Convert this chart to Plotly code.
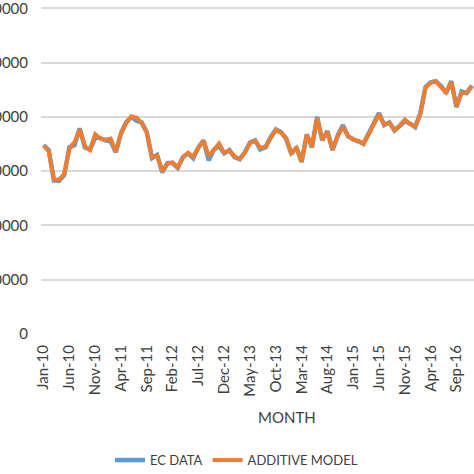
import plotly.graph_objects as go

months = ["Jan", "Feb", "Mar", "Apr", "May", "Jun", "Jul", "Aug", "Sep", "Oct", "Nov", "Dec"]
month_labels = [f"{m}-{y:02d}" for y in range(10, 17) for m in months]

ec_data = [348000, 339000, 283000, 282000, 293000, 344000, 348000, 379000, 344000, 340000,
           362000, 361000, 357000, 355000, 335000, 370000, 390000, 400000, 393000, 390000,
           372000, 324000, 330000, 298000, 315000, 315000, 306000, 326000, 333000, 324000,
           344000, 357000, 320000, 340000, 346000, 333000, 339000, 326000, 322000, 335000,
           353000, 357000, 340000, 344000, 363000, 377000, 372000, 360000, 332000, 344000,
           317000, 368000, 344000, 400000, 357000, 374000, 339000, 366000, 385000, 364000,
           359000, 355000, 351000, 370000, 390000, 407000, 385000, 390000, 375000, 385000,
           392000, 388000, 381000, 407000, 455000, 464000, 466000, 457000, 444000, 466000,
           418000, 447000, 444000, 458000]

additive_model = [347000, 337000, 285000, 284000, 295000, 342000, 354000, 377000, 346000, 339000,
                  368000, 360000, 358000, 360000, 336000, 369000, 389000, 401000, 399000, 389000,
                  371000, 326000, 329000, 300000, 314000, 316000, 307000, 325000, 334000, 327000,
                  343000, 356000, 328000, 339000, 351000, 334000, 338000, 327000, 323000, 334000,
                  352000, 356000, 343000, 345000, 362000, 376000, 371000, 361000, 333000, 343000,
                  318000, 367000, 345000, 398000, 358000, 372000, 340000, 365000, 382000, 365000,
                  358000, 356000, 350000, 369000, 389000, 405000, 386000, 389000, 376000, 384000,
                  395000, 387000, 382000, 405000, 454000, 463000, 465000, 455000, 445000, 464000,
                  420000, 444000, 445000, 456000]

x_idx = list(range(len(month_labels)))
tick_positions = x_idx[::5]
tick_texts = month_labels[::5]
y_ticks = [0, 100000, 200000, 300000, 400000, 500000, 600000]

fig = go.Figure()
fig.add_trace(go.Scatter(x=x_idx, y=ec_data, mode="lines", name="EC DATA",
                         line=dict(color="#5B9BD5", width=4.5)))
fig.add_trace(go.Scatter(x=x_idx, y=additive_model, mode="lines", name="ADDITIVE MODEL",
                         line=dict(color="#ED7D31", width=4)))

fig.update_layout(
    width=474, height=474,
    margin=dict(l=41, r=0, t=3, b=140, autoexpand=False),
    paper_bgcolor="white", plot_bgcolor="white",
    font=dict(family="Lato, Liberation Sans, sans-serif", color="#404040"),
    showlegend=True,
    legend=dict(orientation="h", x=0.4515, xanchor="center", y=-0.381, yanchor="middle",
                font=dict(size=13, color="#404040"), itemwidth=30, traceorder="normal"),
    xaxis=dict(range=[-0.5, 83.4], tickmode="array", tickvals=tick_positions, ticktext=tick_texts,
               tickangle=-90, showgrid=False, zeroline=False, showline=False, automargin=False,
               tickfont=dict(size=15, color="#404040"), ticks="", ticklabelstandoff=7),
    yaxis=dict(range=[0, 610000], tickmode="array", tickvals=y_ticks,
               ticktext=[str(v) for v in y_ticks], automargin=False, ticklabeloverflow="allow",
               showgrid=True, gridcolor="#D9D9D9", gridwidth=1.5, zeroline=False,
               showline=False, ticks="", tickfont=dict(size=15, color="#404040"),
               ticklabelstandoff=12),
    annotations=[dict(text="MONTH", x=0.568, y=-0.251, xref="paper", yref="paper",
                      showarrow=False, xanchor="center", yanchor="middle",
                      font=dict(size=15, color="#404040"))],
)

fig.write_html("out.html", config={"displayModeBar": False},
               post_script="document.body.style.margin='0';document.body.style.overflow='hidden';")
